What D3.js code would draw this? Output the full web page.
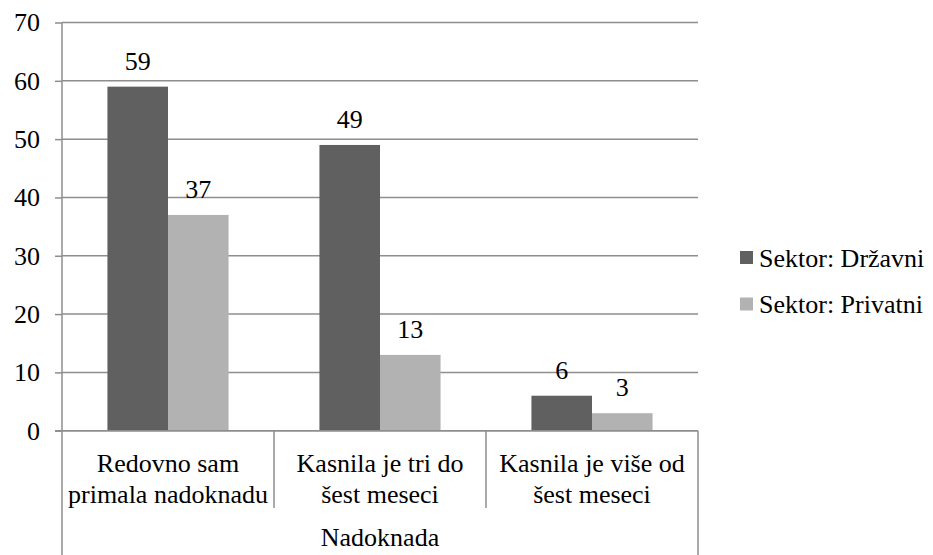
<!DOCTYPE html>
<html>
<head>
<meta charset="utf-8">
<script src="https://cdn.jsdelivr.net/npm/d3@7/dist/d3.min.js"></script>
</head>
<body style="margin:0">
<svg id="chart" width="933" height="555"></svg>
<script>
// Data
const categories = [
  ["Redovno sam", "primala nadoknadu"],
  ["Kasnila je tri do", "šest meseci"],
  ["Kasnila je više od", "šest meseci"]
];
const seriesNames = ["Sektor: Državni", "Sektor: Privatni"];
const drzavni = [59, 49, 6];
const privatni = [37, 13, 3];
const yTicks = [0, 10, 20, 30, 40, 50, 60, 70];
const axisTitle = "Nadoknada";

const seriesValues = [drzavni, privatni];
const colors = ["#606060", "#b2b2b2"];
const gridColor = "#8e8e8e";
const FONT = "Tinos";

const svg = d3.select("#chart");
const plotLeft = 62, plotRight = 698, plotTop = 22.5, plotBottom = 430.7;
const fontSize = 26;

const y = d3.scaleLinear().domain([0, 70]).range([plotBottom, plotTop]);
const x0 = d3.scaleBand().domain(d3.range(categories.length)).range([plotLeft, plotRight]).padding(0);
// 75% gap width: the two bars take band / 1.75
const groupW = x0.bandwidth() / 1.75;
const x1 = d3.scaleBand().domain(d3.range(seriesNames.length))
  .range([(x0.bandwidth() - groupW) / 2, (x0.bandwidth() + groupW) / 2]).padding(0);

function label(sel) {
  return sel.attr("font-family", FONT).attr("font-size", fontSize).attr("fill", "#000");
}

// Gridlines
svg.append("g").selectAll("line").data(yTicks).join("line")
  .attr("x1", plotLeft).attr("x2", plotRight)
  .attr("y1", d => y(d)).attr("y2", d => y(d))
  .attr("stroke", gridColor).attr("stroke-width", 1.5);

// Y axis ticks and labels
const yAxis = d3.axisLeft(y).tickValues(yTicks).tickSize(7).tickPadding(15);
const gy = svg.append("g").attr("transform", `translate(${plotLeft},0)`).call(yAxis);
gy.attr("font-family", null).attr("font-size", null);
gy.select(".domain").remove();
gy.selectAll(".tick line").attr("stroke", gridColor).attr("stroke-width", 1.5);
label(gy.selectAll(".tick text"));

// Bars with value labels
seriesValues.forEach((vals, si) => {
  svg.append("g").selectAll("rect").data(vals).join("rect")
    .attr("x", (v, ci) => x0(ci) + x1(si)).attr("width", x1.bandwidth())
    .attr("y", v => y(v)).attr("height", v => y(0) - y(v))
    .attr("fill", colors[si]);
  label(svg.append("g").selectAll("text").data(vals).join("text"))
    .attr("x", (v, ci) => x0(ci) + x1(si) + x1.bandwidth() / 2)
    .attr("y", v => y(v) - 17)
    .attr("text-anchor", "middle")
    .text(v => v);
});

// Axis lines
svg.append("line").attr("x1", plotLeft).attr("x2", plotLeft).attr("y1", plotTop).attr("y2", 555)
  .attr("stroke", gridColor).attr("stroke-width", 1.5);
svg.append("line").attr("x1", plotLeft - 7).attr("x2", plotRight).attr("y1", plotBottom).attr("y2", plotBottom)
  .attr("stroke", gridColor).attr("stroke-width", 1.5);
// Category separators
d3.range(1, categories.length).forEach(i => {
  svg.append("line").attr("x1", x0(i)).attr("x2", x0(i)).attr("y1", plotBottom).attr("y2", 508)
    .attr("stroke", gridColor).attr("stroke-width", 1.5);
});
svg.append("line").attr("x1", plotRight).attr("x2", plotRight).attr("y1", plotBottom).attr("y2", 555)
  .attr("stroke", gridColor).attr("stroke-width", 1.5);

// Category labels, two lines each
categories.forEach((lines, i) => {
  const cx = x0(i) + x0.bandwidth() / 2;
  lines.forEach((ln, k) => {
    label(svg.append("text"))
      .attr("x", cx).attr("y", 471.5 + k * 31.5)
      .attr("text-anchor", "middle")
      .text(ln);
  });
});

label(svg.append("text"))
  .attr("x", (plotLeft + plotRight) / 2).attr("y", 546)
  .attr("text-anchor", "middle")
  .text(axisTitle);

// Legend
const legend = svg.append("g").selectAll("g").data(seriesNames).join("g")
  .attr("transform", (d, i) => `translate(740,${251 + i * 46.5})`);
legend.append("rect").attr("width", 13).attr("height", 13).attr("fill", (d, i) => colors[i]);
label(legend.append("text")).attr("x", 19).attr("y", 15.7).text(d => d);
</script>
</body>
</html>
